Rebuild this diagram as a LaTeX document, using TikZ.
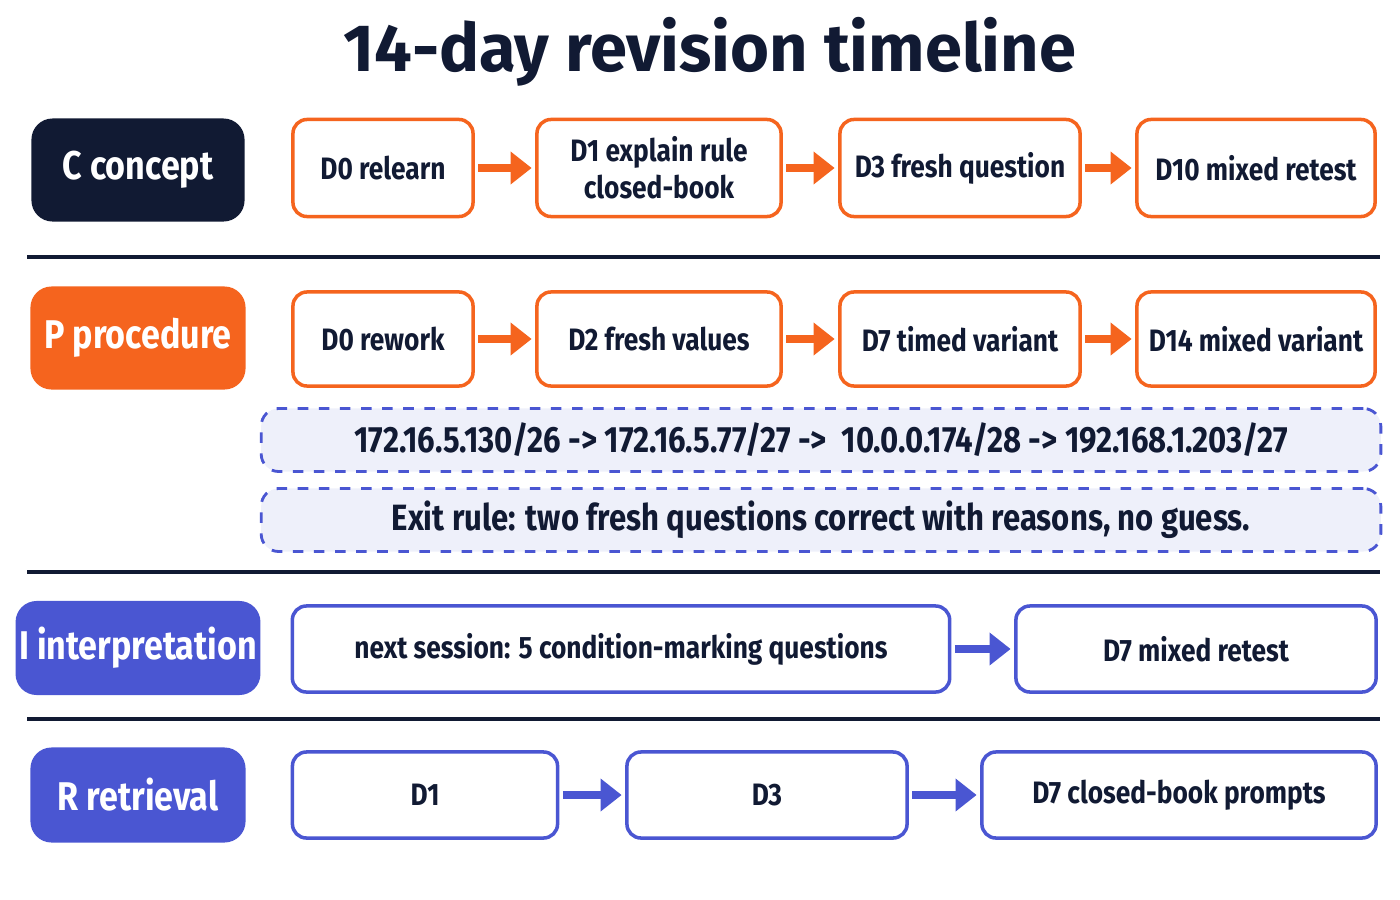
\documentclass[tikz,border=0pt]{standalone}
\usepackage{fontspec}
\setmainfont{Fira Sans}
\newfontfamily\cond{Fira Sans}[FakeStretch=0.85]
\usetikzlibrary{arrows.meta}
\definecolor{navy}{HTML}{111A33}
\definecolor{orng}{HTML}{F5641E}
\definecolor{blu}{HTML}{4A56D2}
\definecolor{lav}{HTML}{EEF0FA}
\tikzset{
  tag/.style={rounded corners=6pt,text=white,inner sep=1pt,font=\cond\bfseries\fontsize{11.4}{14}\selectfont,align=center},
  step/.style={draw=#1,line width=1pt,rounded corners=4pt,fill=white,inner sep=1pt,font=\cond\bfseries\fontsize{8.8}{10.5}\selectfont,align=center,text=navy},
  note/.style={draw=blu,dashed,line width=0.8pt,rounded corners=5pt,fill=lav,font=\cond\bfseries\fontsize{10.4}{12}\selectfont,text=navy},
  go/.style={-{Triangle[length=6pt,width=9pt]},line width=2.5pt,draw=#1,shorten <=1pt,shorten >=1pt},
  sep/.style={line width=0.9pt,draw=navy}
}
\begin{document}
\begin{tikzpicture}[x=0.01cm,y=-0.01cm]
	\useasboundingbox (0,0) rectangle (1400,900);
	\node[font=\bfseries\fontsize{19}{22}\selectfont,text=navy] (title) at (710,52) {14-day revision timeline};

	% concept row
	\node[tag,fill=navy,minimum width=2.13cm,minimum height=1.03cm] (c) at (138,170) {C concept};
	\node[step=orng,minimum width=1.8cm,minimum height=0.97cm] (c0) at (383,168) {D0 relearn};
	\node[step=orng,minimum width=2.44cm,minimum height=0.97cm] (c1) at (659,168) {D1 explain rule\\closed-book};
	\node[step=orng,minimum width=2.4cm,minimum height=0.97cm] (c3) at (960,168) {D3 fresh question};
	\node[step=orng,minimum width=2.38cm,minimum height=0.97cm] (c10) at (1256,168) {D10 mixed retest};
	\path[go=orng] (c0) -- (c1);
	\path[go=orng] (c1) -- (c3);
	\path[go=orng] (c3) -- (c10);
	\coordinate (l1a) at (27,257); \coordinate (l1b) at (1380,257);
	\draw[sep] (l1a) -- (l1b);

	% procedure row
	\node[tag,fill=orng,minimum width=2.15cm,minimum height=1.03cm] (p) at (138,338) {P procedure};
	\node[step=orng,minimum width=1.8cm,minimum height=0.94cm] (p0) at (383,339) {D0 rework};
	\node[step=orng,minimum width=2.44cm,minimum height=0.94cm] (p2) at (659,339) {D2 fresh values};
	\node[step=orng,minimum width=2.4cm,minimum height=0.94cm] (p7) at (960,339) {D7 timed variant};
	\node[step=orng,minimum width=2.38cm,minimum height=0.94cm] (p14) at (1256,339) {D14 mixed variant};
	\path[go=orng] (p0) -- (p2);
	\path[go=orng] (p2) -- (p7);
	\path[go=orng] (p7) -- (p14);
	\node[note,minimum width=11.19cm,minimum height=0.63cm] (ips) at (821,440) {172.16.5.130/26 -> 172.16.5.77/27 -> \ 10.0.0.174/28 -> 192.168.1.203/27};
	\node[note,minimum width=11.19cm,minimum height=0.63cm] (exit) at (821,520) {Exit rule: two fresh questions correct with reasons, no guess.};
	\coordinate (l2a) at (27,572); \coordinate (l2b) at (1380,572);
	\draw[sep] (l2a) -- (l2b);

	% interpretation row
	\node[tag,fill=blu,minimum width=2.15cm,minimum height=0.94cm] (i) at (138,648) {I interpretation};
	\node[step=blu,minimum width=6.57cm,minimum height=0.86cm] (i0) at (621,649) {next session: 5 condition-marking questions};
	\node[step=blu,minimum width=3.6cm,minimum height=0.86cm] (i7) at (1196,649) {D7 mixed retest};
	\path[go=blu] (i0) -- (i7);
	\coordinate (l3a) at (27,719); \coordinate (l3b) at (1380,719);
	\draw[sep] (l3a) -- (l3b);

	% retrieval row
	\node[tag,fill=blu,minimum width=2.15cm,minimum height=0.95cm] (r) at (138,795) {R retrieval};
	\node[step=blu,minimum width=2.65cm,minimum height=0.86cm] (r1) at (425,795) {D1};
	\node[step=blu,minimum width=2.8cm,minimum height=0.86cm] (r3) at (767,795) {D3};
	\node[step=blu,minimum width=3.94cm,minimum height=0.86cm] (r7) at (1179,795) {D7 closed-book prompts};
	\path[go=blu] (r1) -- (r3);
	\path[go=blu] (r3) -- (r7);
\end{tikzpicture}
\end{document}
